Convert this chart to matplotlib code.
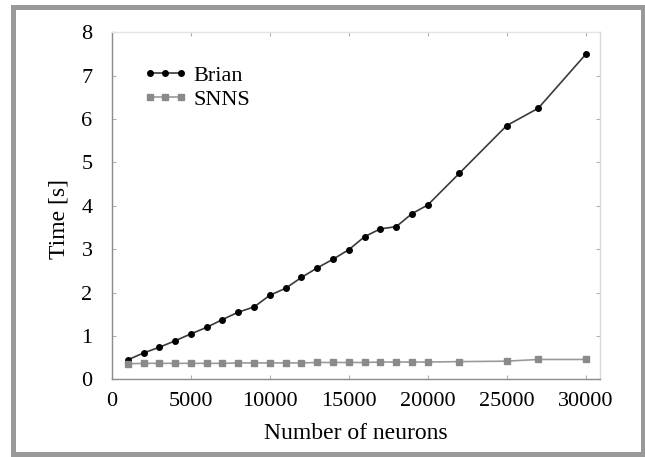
import matplotlib as mpl
import matplotlib.pyplot as plt
import numpy as np

# Data
neurons = [1000, 2000, 3000, 4000, 5000, 6000, 7000, 8000, 9000, 10000,
           11000, 12000, 13000, 14000, 15000, 16000, 17000, 18000, 19000,
           20000, 22000, 25000, 27000, 30000]
brian_time = [0.45, 0.61, 0.74, 0.89, 1.05, 1.20, 1.38, 1.55, 1.67, 1.94,
              2.10, 2.35, 2.57, 2.77, 2.99, 3.29, 3.47, 3.52, 3.82,
              4.02, 4.75, 5.85, 6.25, 7.49]
snns_time = [0.36, 0.37, 0.37, 0.37, 0.37, 0.37, 0.37, 0.38, 0.38, 0.38,
             0.38, 0.38, 0.39, 0.39, 0.39, 0.39, 0.40, 0.40, 0.40,
             0.40, 0.41, 0.42, 0.46, 0.46]
x_ticks = [0, 5000, 10000, 15000, 20000, 25000, 30000]
y_ticks = [0, 1, 2, 3, 4, 5, 6, 7, 8]

mpl.rcParams['font.family'] = 'Liberation Serif'
plt.rcParams['font.size'] = 16

fig = plt.figure(figsize=(6.45, 4.57), dpi=100)
ax = fig.add_axes([0.1736, 0.1698, 0.7564, 0.7595])

ax.plot(neurons, brian_time, '-o', color='#3a3a3a', linewidth=1.2,
        markersize=4, markerfacecolor='black', markeredgecolor='black', label='Brian')
ax.plot(neurons, snns_time, '-s', color='#9a9a9a', linewidth=1.2,
        markersize=4, markerfacecolor='#8a8a8a', markeredgecolor='#8a8a8a', label='SNNS')

ax.set_xlim(0, 30900)
ax.set_ylim(0, 8)
ax.set_xticks(x_ticks)
ax.set_yticks(y_ticks)

# Spines: darker left/bottom, light top/right
ax.spines['left'].set_color('#8c8c8c')
ax.spines['bottom'].set_color('#8c8c8c')
ax.spines['top'].set_color('#e4e4e4')
ax.spines['right'].set_color('#d8d8d8')
for s in ax.spines.values():
    s.set_linewidth(1.0)

ax.xaxis.set_tick_params(which='major', length=3, width=0.8, direction='in',
                         top=True, color='#b0b0b0', pad=9)
ax.yaxis.set_tick_params(which='major', length=3, width=0.8, direction='in',
                         right=True, color='#b0b0b0', pad=14)

ax.set_xlabel('Number of neurons', fontsize=17)
ax.set_ylabel('Time [s]', fontsize=17)
ax.xaxis.set_label_coords(0.5, -0.126)
ax.yaxis.set_label_coords(-0.088, 0.462)

ax.legend(loc='upper left', bbox_to_anchor=(0.064, 0.905), frameon=False,
          numpoints=3, handlelength=2.0, handletextpad=0.25, labelspacing=0.15,
          borderpad=0, borderaxespad=0)

# Gray frame around the whole figure
frame = mpl.patches.Rectangle((12.5 / 645, 1 - 453.7 / 457),
                              (642.5 - 12.5) / 645, (453.7 - 6.5) / 457,
                              transform=fig.transFigure, fill=False,
                              edgecolor='#999999', linewidth=3.6, clip_on=False)
fig.patches.append(frame)

plt.savefig('out.png', dpi=100)
